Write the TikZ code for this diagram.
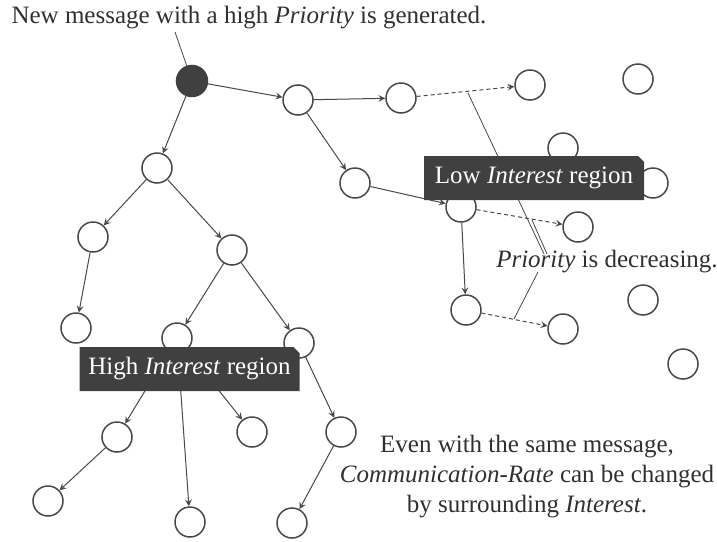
\documentclass[tikz,border=0pt]{standalone}
\usepackage{fontspec}
\setmainfont{Liberation Serif}
\usepackage{tikz}
\usetikzlibrary{shapes.misc}
\definecolor{boxgray}{RGB}{64,64,64}
\definecolor{linegray}{RGB}{72,72,72}
\definecolor{textgray}{RGB}{48,48,48}
\tikzstyle{none}=[inner sep=0pt]
\tikzstyle{host}=[circle,draw=linegray,fill=white,line width=0.75pt,minimum size=15pt,inner sep=0pt]
\tikzstyle{source}=[host,fill=boxgray,draw=boxgray,minimum size=15.5pt]
\tikzstyle{region}=[chamfered rectangle,chamfered rectangle corners=north east,chamfered rectangle xsep=1.5pt,chamfered rectangle ysep=1.5pt,fill=boxgray,text=white,minimum width=110pt,minimum height=22pt,inner sep=0pt]
\tikzstyle{caption}=[text=textgray,inner sep=0pt]
\tikzstyle{relay}=[->,>=stealth,draw=linegray,line width=0.5pt]
\tikzstyle{weakrelay}=[relay,dash pattern=on 2pt off 1.5pt]
\tikzstyle{pointer}=[-,draw=linegray,line width=0.4pt]
\pgfdeclarelayer{edgelayer}
\pgfdeclarelayer{nodelayer}
\pgfsetlayers{edgelayer,nodelayer,main}

\begin{document}
\begin{tikzpicture}[x=0.5pt,y=-0.5pt,font=\fontsize{12.5}{15}\selectfont]
	\useasboundingbox (0,0) rectangle (717,541);
	\begin{pgfonlayer}{nodelayer}
		\node [style=source] (src) at (192, 81) {};
		\node [style=host] (r1) at (298, 100) {};
		\node [style=host] (r2) at (401, 98) {};
		\node [style=host] (r3) at (530, 85) {};
		\node [style=host] (r4) at (638, 79) {};
		\node [style=host] (r5) at (563, 148) {};
		\node [style=host] (r6) at (653, 183) {};
		\node [style=host] (r7) at (355, 183) {};
		\node [style=host] (r8) at (461, 207) {};
		\node [style=host] (r9) at (578, 227) {};
		\node [style=host] (r10) at (643, 300) {};
		\node [style=host] (r11) at (466, 310) {};
		\node [style=host] (r12) at (563, 329) {};
		\node [style=host] (r13) at (683, 364) {};

		\node [style=host] (l1) at (157, 168) {};
		\node [style=host] (l2) at (93, 237) {};
		\node [style=host] (l3) at (232, 250) {};
		\node [style=host] (l4) at (76, 328) {};
		\node [style=host] (l5) at (177, 338) {};
		\node [style=host] (l6) at (299, 343) {};
		\node [style=host] (l7) at (117, 437) {};
		\node [style=host] (l8) at (48, 501) {};
		\node [style=host] (l9) at (190, 522) {};
		\node [style=host] (l10) at (252, 432) {};
		\node [style=host] (l11) at (341, 432) {};
		\node [style=host] (l12) at (292, 523) {};

		\node [style=none] (msgtip) at (175, 32) {};
		\node [style=none] (d1) at (468, 93) {};
		\node [style=none] (d2) at (532, 220) {};
		\node [style=none] (d3) at (514, 319) {};
		\node [style=none] (p1) at (544, 254) {};
		\node [style=none] (p2) at (547, 254) {};
		\node [style=none] (p3) at (538, 272) {};
	\end{pgfonlayer}
	\begin{pgfonlayer}{edgelayer}
		\draw [style=relay] (src) to (r1);
		\draw [style=relay] (r1) to (r2);
		\draw [style=weakrelay] (r2) to (r3);
		\draw [style=relay] (r1) to (r7);
		\draw [style=relay] (r7) to (r8);
		\draw [style=weakrelay] (r8) to (r9);
		\draw [style=relay] (r8) to (r11);
		\draw [style=weakrelay] (r11) to (r12);
		\draw [style=relay] (src) to (l1);
		\draw [style=relay] (l1) to (l2);
		\draw [style=relay] (l1) to (l3);
		\draw [style=relay] (l2) to (l4);
		\draw [style=relay] (l3) to (l5);
		\draw [style=relay] (l3) to (l6);
		\draw [style=relay] (l5) to (l7);
		\draw [style=relay] (l7) to (l8);
		\draw [style=relay] (l5) to (l9);
		\draw [style=relay] (l5) to (l10);
		\draw [style=relay] (l6) to (l11);
		\draw [style=relay] (l11) to (l12);
		\draw [style=pointer] (msgtip.center) to (src);
		\draw [style=pointer] (d1.center) to (p1.center);
		\draw [style=pointer] (d2.center) to (p2.center);
		\draw [style=pointer] (d3.center) to (p3.center);
	\end{pgfonlayer}
	\node [style=region] (low) at (534, 178) {Low \textit{Interest} region};
	\node [style=region] (high) at (189.5, 369) {High \textit{Interest} region};
	\node [style=caption] (msg) at (249, 18) {New message with a high \textit{Priority} is generated.};
	\node [style=caption] (prio) at (607, 262) {\textit{Priority} is decreasing.};
	\node [style=caption, align=center] (note) at (527, 477) {Even with the same message,\\\textit{Communication-Rate} can be changed\\by surrounding \textit{Interest}.};
\end{tikzpicture}
\end{document}
